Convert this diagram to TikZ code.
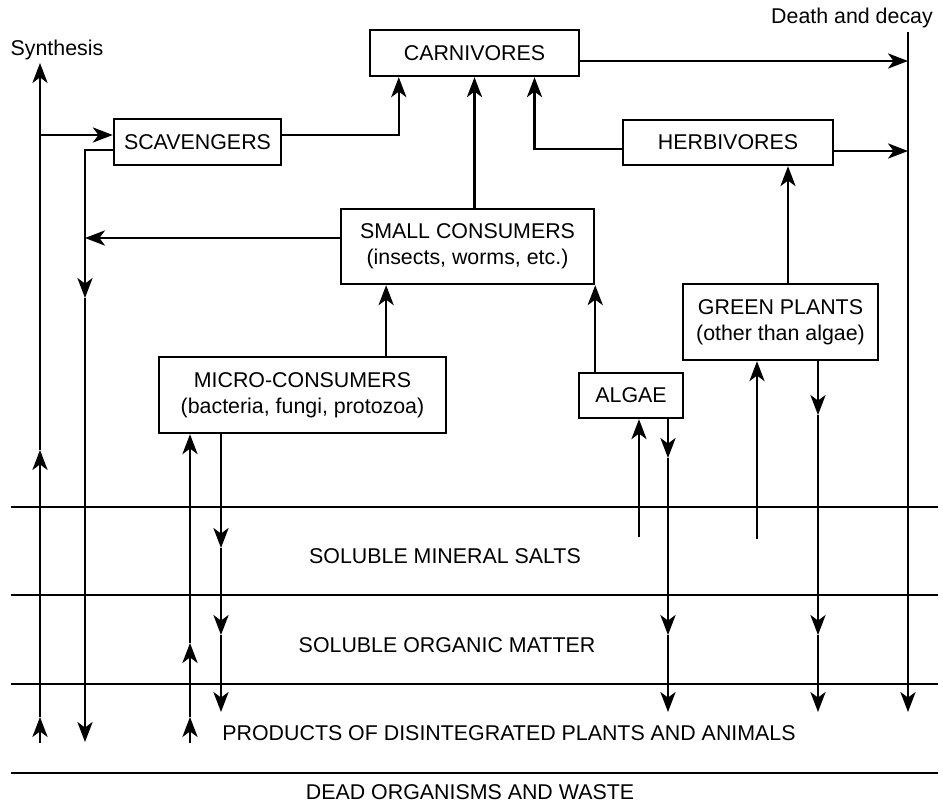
\documentclass[tikz,border=0pt]{standalone}
\usepackage{fontspec}
\setmainfont{Liberation Sans}
\usetikzlibrary{arrows.meta}

\tikzset{
    organism/.style={
        draw,line width=1.7pt,inner sep=0pt,align=center,
        font=\fontsize{15.2}{18.4}\selectfont
    },
    flow/.style={line width=1.5pt,-{Stealth[length=5mm,width=3.8mm,inset=1.4mm]}},
    layer/.style={line width=2pt},
    layer text/.style={anchor=base,inner sep=0pt,font=\fontsize{15.2}{18.4}\selectfont}
}

\begin{document}
\begin{tikzpicture}[x=0.025cm,y=-0.025cm]
        \useasboundingbox (0,0) rectangle (943,804);
        \foreach \y in {507,595,684,773}
            \draw[layer] (11,\y) -- (938,\y);
        \node[organism,minimum width=5.225cm,minimum height=1.15cm] (carn) at (474.5,53) {CARNIVORES};
        \node[organism,minimum width=4.175cm,minimum height=1.15cm] (scav) at (197.5,142) {SCAVENGERS};
        \node[organism,minimum width=5.25cm,minimum height=1.125cm] (herb) at (728,142.5) {HERBIVORES};
        \node[organism,minimum width=6.325cm,minimum height=1.875cm] (small) at (467.5,246.5) {SMALL CONSUMERS\\(insects, worms, etc.)};
        \node[organism,minimum width=4.875cm,minimum height=1.9cm] (green) at (780.5,322) {GREEN PLANTS\\(other than algae)};
        \node[organism,minimum width=7.175cm,minimum height=1.9cm] (micro) at (302.5,395) {MICRO-CONSUMERS\\(bacteria, fungi, protozoa)};
        \node[organism,minimum width=2.6cm,minimum height=1.125cm] (algae) at (631,395.5) {ALGAE};
        \node[layer text] (synth) at (57,55) {Synthesis};
        \node[layer text] (decay) at (852,23) {Death and decay};
        \node[layer text] (minerals) at (445,563) {SOLUBLE MINERAL SALTS};
        \node[layer text] (organic) at (447,652) {SOLUBLE ORGANIC MATTER};
        \node[layer text] (products) at (509,740) {PRODUCTS OF DISINTEGRATED PLANTS AND ANIMALS};
        \node[layer text] (dead) at (470,799) {DEAD ORGANISMS AND WASTE};
        \foreach \name/\x/\y in {sy0/40/743,sy1/40/717,sy2/40/450,sy3/40/63,sy4/40/135,
                sc1/85/298,sc2/85/742,mu0/190/743,mu1/190/717,mu2/190/643,
                md1/221/548,md2/221/635,md3/221/712,au/639/537,ad1/668/458,ad2/668/635,ad3/668/712,
                gu/757/539,gd1/818/415,gd2/818/635,gd3/818/712,dtop/908/32,dbot/908/712}
            \coordinate (\name) at (\x,\y);
        \foreach \a/\b in {sy0/sy1,sy1/sy2,sy2/sy3,sc1/sc2,mu0/mu1,mu1/mu2,md1/md2,md2/md3,
                ad1/ad2,ad2/ad3,gd1/gd2,gd2/gd3,dtop/dbot}
            \draw[flow] (\a) -- (\b);
        \draw[flow] (sy4) -- (sy4 -| scav.west);
        \draw[flow] ([yshift=-0.2cm]scav.west) -| (sc1);
        \draw[flow] ([yshift=0.175cm]scav.east) -| ([xshift=0.75cm]carn.south west);
        \draw[flow] (small.north -| carn.south) -- (carn.south);
        \draw[flow] ([yshift=-0.16cm]herb.west) -| ([xshift=1.5cm]carn.south);
        \coordinate (cd) at ([yshift=-0.2cm]carn.east);
        \draw[flow] (cd) -- (cd -| dtop);
        \coordinate (hd) at ([yshift=-0.2125cm]herb.east);
        \draw[flow] (hd) -- (hd -| dtop);
        \coordinate (sm) at ([yshift=0.2125cm]small.west);
        \draw[flow] (sm) -- (sm -| sc1);
        \draw[flow] ([xshift=2.09cm]micro.north) -- ([xshift=2.09cm]micro.north |- small.south);
        \draw[flow] (small.south east |- algae.north) -- (small.south east);
        \draw[flow] ([xshift=0.1875cm]green.north) -- ([xshift=0.1875cm]green.north |- herb.south);
        \draw[flow] (mu2) -- (mu2 |- micro.south);
        \draw[flow] (md1 |- micro.south) -- (md1);
        \draw[flow] (au) -- (au |- algae.south);
        \draw[flow] (ad1 |- algae.south) -- (ad1);
        \draw[flow] (gu) -- (gu |- green.south);
        \draw[flow] (gd1 |- green.south) -- (gd1);
    \end{tikzpicture}
\end{document}
